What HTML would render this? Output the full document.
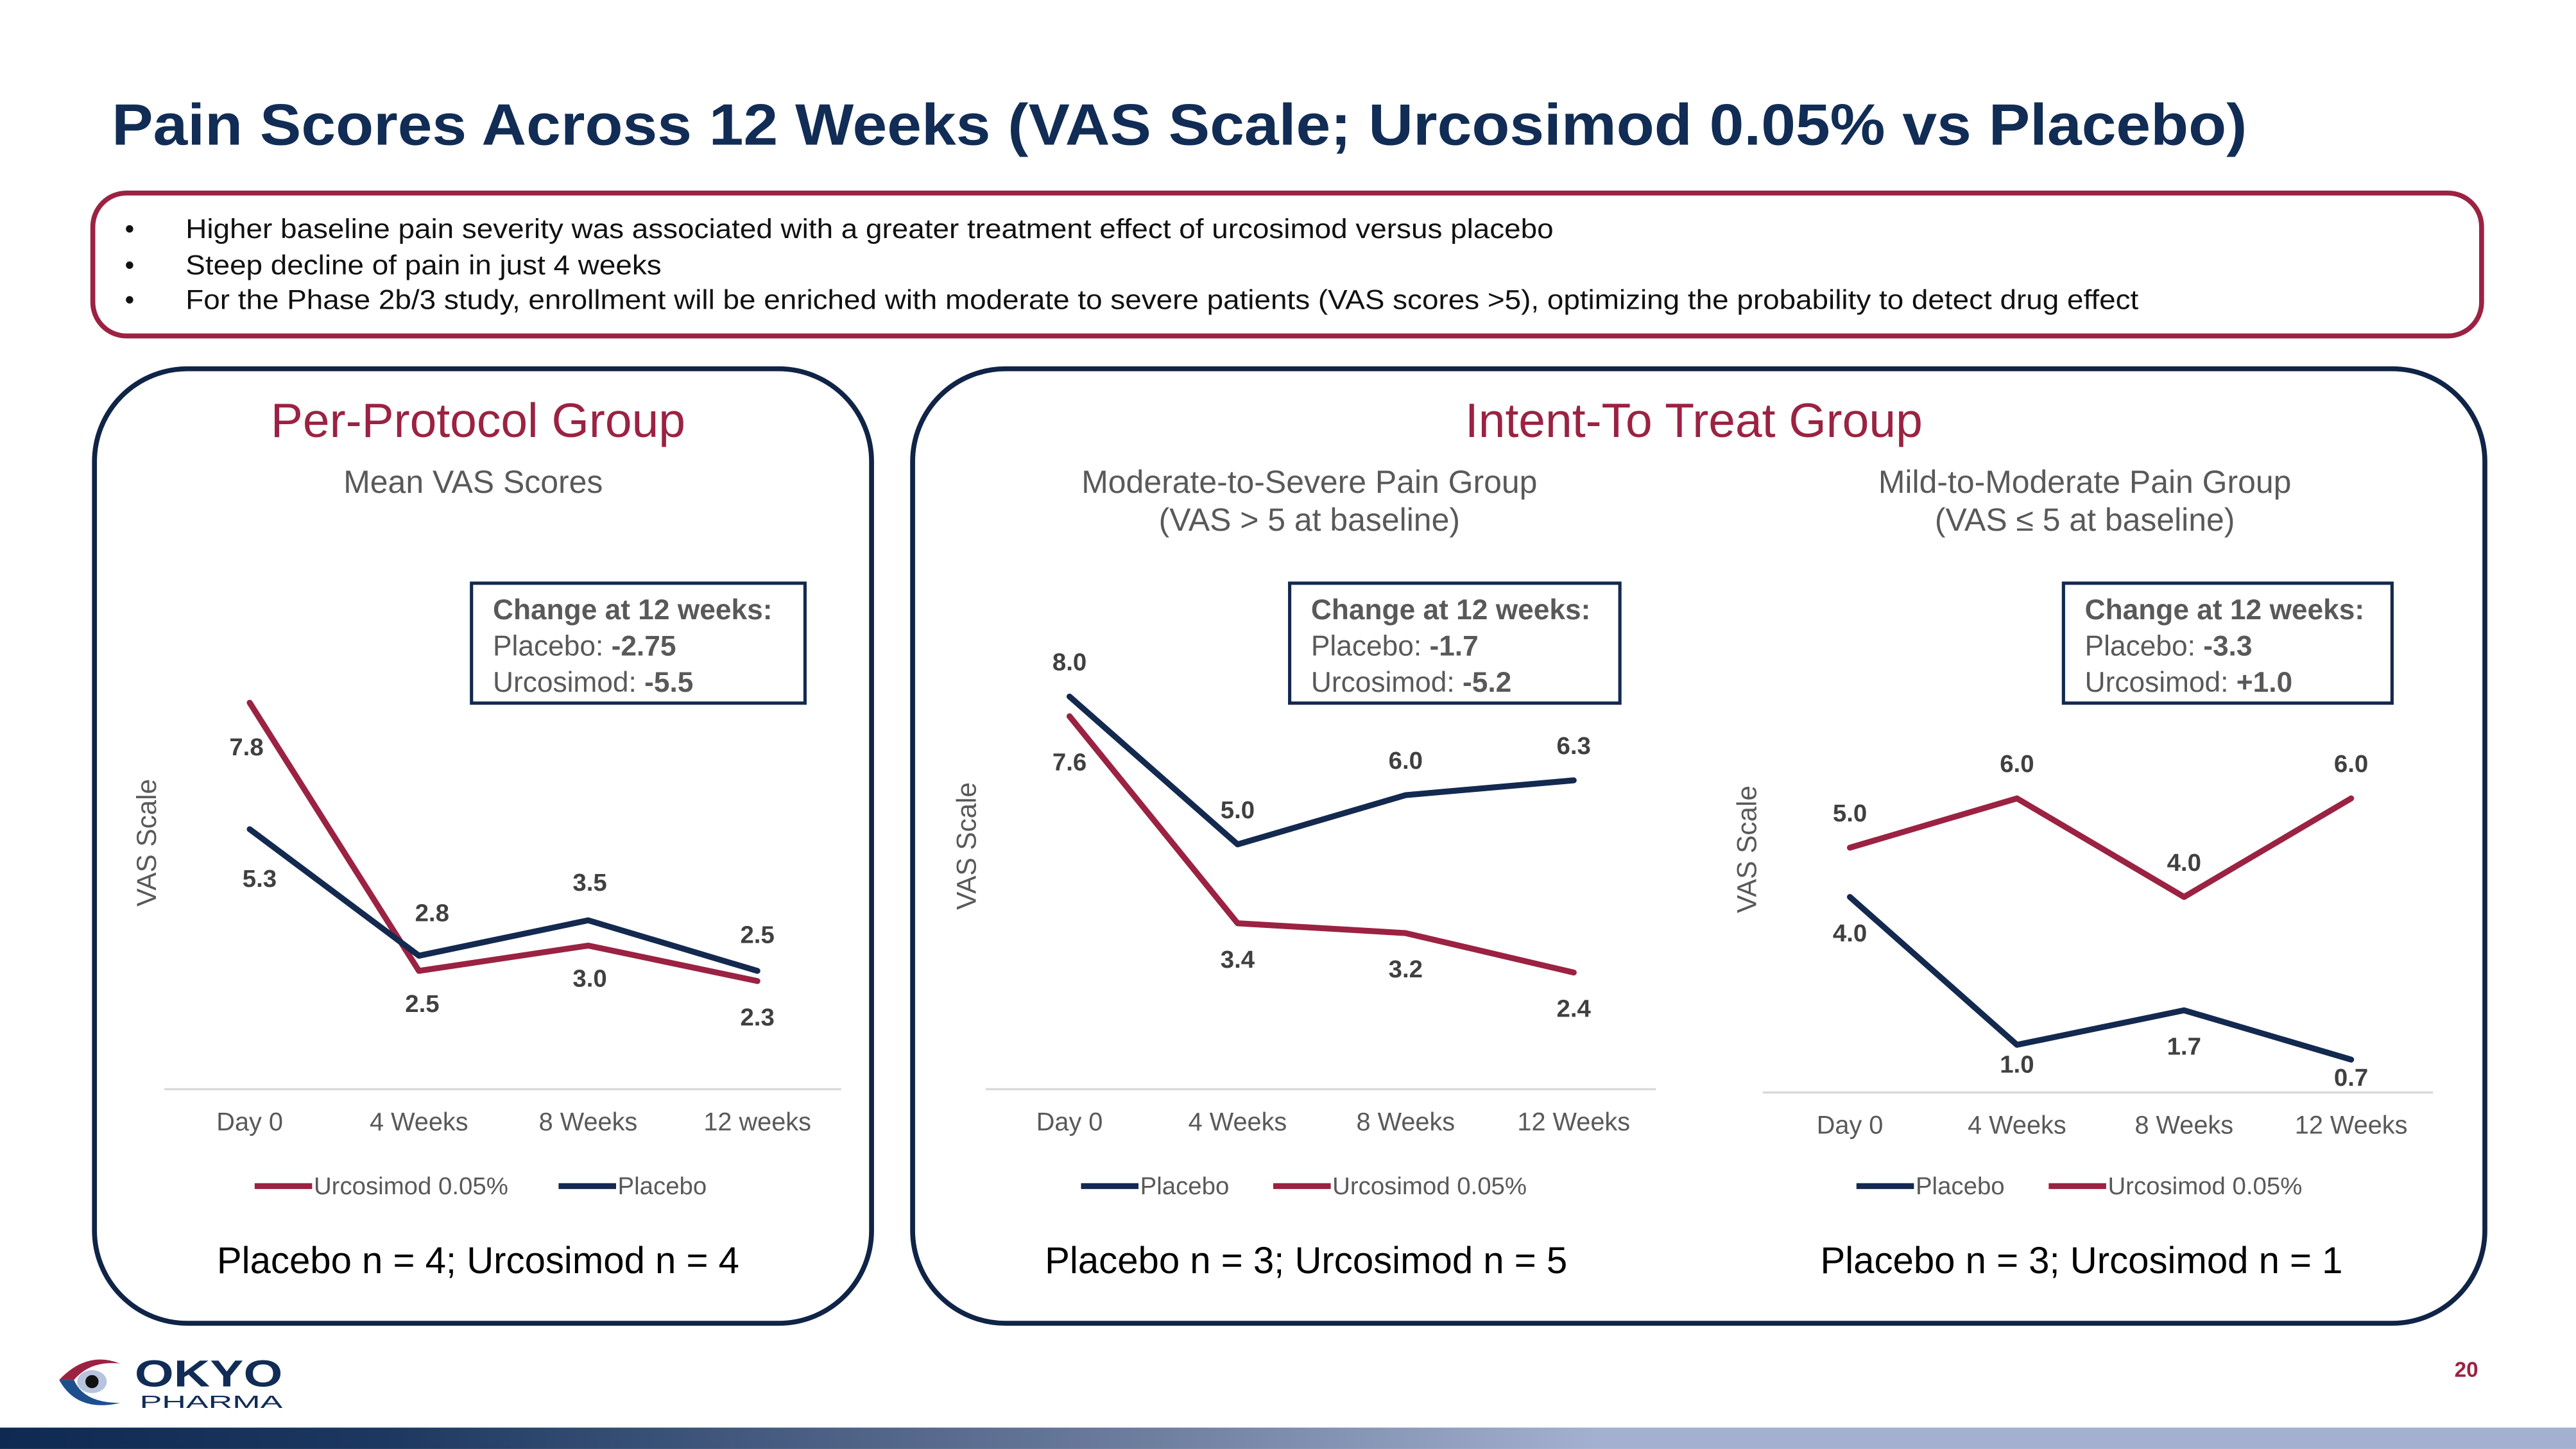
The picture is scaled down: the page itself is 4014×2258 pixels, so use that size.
<!DOCTYPE html>
<html><head><meta charset="utf-8">
<style>
html,body{margin:0;padding:0;background:#fff;}
body{width:4014px;height:2258px;overflow:hidden;font-family:"Liberation Sans",sans-serif;}
#stage{position:absolute;left:0;top:0;width:1568px;height:882px;transform:scale(2.56);transform-origin:0 0;}
.abs{position:absolute;}
.bl{display:inline-block;transform:scaleX(1.085);transform-origin:0 0;}
</style></head>
<body>
<div id="stage">
<div class="abs" style="left:68px;top:56px;font-size:35.5px;font-weight:bold;color:#112c55;white-space:nowrap;transform:scaleX(1.063);transform-origin:0 0;">Pain Scores Across 12 Weeks (VAS Scale; Urcosimod 0.05% vs Placebo)</div>
<div class="abs" style="left:55px;top:116px;width:1451px;height:84px;border:3px solid #9b2242;border-radius:22px;"></div>
<div class="abs" style="left:76px;top:130px;font-size:16.5px;line-height:21.7px;color:#111;white-space:nowrap;">
<div><span style="display:inline-block;width:37px">•</span><span class="bl">Higher baseline pain severity was associated with a greater treatment effect of urcosimod versus placebo</span></div>
<div><span style="display:inline-block;width:37px">•</span><span class="bl">Steep decline of pain in just 4 weeks</span></div>
<div><span style="display:inline-block;width:37px">•</span><span class="bl">For the Phase 2b/3 study, enrollment will be enriched with moderate to severe patients (VAS scores &gt;5), optimizing the probability to detect drug effect</span></div>
</div>
<div class="abs" style="left:56px;top:223px;width:470px;height:578px;border:3px solid #0f2446;border-radius:58px;"></div>
<div class="abs" style="left:554px;top:223px;width:954px;height:578px;border:3px solid #0f2446;border-radius:58px;"></div>
<svg id="charts" class="abs" style="left:0;top:0" width="1568" height="882"></svg>
<div class="abs" style="left:33px;top:824px;width:145px;height:36px;">
<svg width="145" height="36">
<path d="M3 16 Q20 -2 40 6 Q22 4 12 16Z" fill="#9b2242"/>
<path d="M3 16 Q14 36 40 30 Q18 30 12 16Z" fill="#1d4f8f"/>
<ellipse cx="23" cy="17" rx="9" ry="7" fill="#b8c3dd"/>
<circle cx="23" cy="17" r="4" fill="#111"/>
<text x="49" y="20" font-family="Liberation Sans" font-weight="bold" font-size="23" fill="#112c55" textLength="90" lengthAdjust="spacingAndGlyphs">OKYO</text>
<text x="52" y="33" font-family="Liberation Sans" font-size="11" fill="#112c55" textLength="87" lengthAdjust="spacingAndGlyphs">PHARMA</text>
</svg></div>
<div class="abs" style="left:1494px;top:826px;font-size:13px;font-weight:bold;color:#9b2242;">20</div>
<div class="abs" style="left:0;top:869px;width:1568px;height:13px;background:linear-gradient(90deg,#0f2a52 0%,#1d3860 15%,#6f7fa0 45%,#a4b0d0 62%,#a4b0d0 100%);"></div>
</div>
<script>
const cats1 = ["Day 0","4 Weeks","8 Weeks","12 weeks"];
const cats2 = ["Day 0","4 Weeks","8 Weeks","12 Weeks"];
const c1Urco = [7.8,2.5,3.0,2.3];
const c1Plac = [5.3,2.8,3.5,2.5];
const c2Plac = [8.0,5.0,6.0,6.3];
const c2Urco = [7.6,3.4,3.2,2.4];
const c3Urco = [5.0,6.0,4.0,6.0];
const c3Plac = [4.0,1.0,1.7,0.7];
const c1Change = ["-2.75","-5.5"];
const c2Change = ["-1.7","-5.2"];
const c3Change = ["-3.3","+1.0"];

const NAVY="#13294f", RED="#9b2242";
const svg=document.getElementById('charts');
const NS="http://www.w3.org/2000/svg";
function el(tag,attrs,txt){const e=document.createElementNS(NS,tag);for(const k in attrs)e.setAttribute(k,attrs[k]);if(txt!==undefined)e.textContent=txt;svg.appendChild(e);return e;}

function chart(o){
  const xs=i=>o.x0+i*o.dx;
  const ys=v=>o.yz-v*o.k;
  const ax=el('line',{x1:o.ax1,x2:o.ax2,y1:o.axy,y2:o.axy,stroke:"#d9d9d9","stroke-width":1.3});
  
  
  o.cats.forEach((c,i)=>{const t=el('text',{x:xs(i),y:o.axy+25,"text-anchor":"middle","font-size":15.5,fill:"#595959","font-family":"Liberation Sans"},c);
    
    });
  const yt=el('text',{x:0,y:0,transform:`translate(${o.ytx},${o.yty}) rotate(-90)`,"text-anchor":"middle","font-size":16.5,fill:"#595959","font-family":"Liberation Sans"},"VAS Scale");
  
  
  o.series.forEach(s=>{
    const p=el('polyline',{points:s.vals.map((v,i)=>xs(i)+","+ys(v)).join(" "),fill:"none",stroke:s.color,"stroke-width":3.6,"stroke-linejoin":"round","stroke-linecap":"round"});
    
    
    s.vals.forEach((v,i)=>{const t=el('text',{x:xs(i)+(s.ldx?s.ldx[i]:0),y:ys(v)+s.ldy[i]+5,"text-anchor":"middle","font-size":15,"font-weight":"bold",fill:"#404040","font-family":"Liberation Sans"},v.toFixed(1));
      
      });
  });
  o.legend.forEach(l=>{
    const ln=el('line',{x1:l.x,x2:l.x+35,y1:722,y2:722,stroke:l.color,"stroke-width":3.6});
    
    
    const t=el('text',{x:l.x+36,y:727,"font-size":15,fill:"#595959","font-family":"Liberation Sans"},l.label);
    
    
  });
  const b=el('rect',{x:o.bx,y:355,width:o.bw,height:73,fill:"#fff",stroke:"#13294f","stroke-width":2});
  
  
  const t1=el('text',{x:o.bx+13,y:377,"font-size":17.3,"font-weight":"bold",fill:"#595959","font-family":"Liberation Sans"},"Change at 12 weeks:");
  
  
  const t2=el('text',{x:o.bx+13,y:399,"font-size":17.3,fill:"#595959","font-family":"Liberation Sans"});
  t2.innerHTML='Placebo: <tspan font-weight="bold">'+o.change[0]+'</tspan>';
  
  
  const t3=el('text',{x:o.bx+13,y:421,"font-size":17.3,fill:"#595959","font-family":"Liberation Sans"});
  t3.innerHTML='Urcosimod: <tspan font-weight="bold">'+o.change[1]+'</tspan>';
  
  
  o.sub.forEach((s,i)=>{const t=el('text',{x:o.subx,y:300+i*23,"text-anchor":"middle","font-size":19.5,fill:"#595959","font-family":"Liberation Sans"},s);
    
    });
  const n=el('text',{x:o.nx,y:775,"font-size":22.7,fill:"#000","font-family":"Liberation Sans"},o.n);
  
  
}

[["Per-Protocol Group",291],["Intent-To Treat Group",1031]].forEach(h=>{
  const t=el('text',{x:h[1],y:266,"text-anchor":"middle","font-size":29.3,fill:RED,"font-family":"Liberation Sans"},h[0]);
  
  
});

chart({id:"pp-chart",cats:cats1,x0:152,dx:103,yz:668,k:30.8,axy:663,ax1:100,ax2:512,ytx:95,yty:513,
  series:[{name:"urcosimod",vals:c1Urco,color:RED,ldy:[27,20,20,22],ldx:[-2,2,1,0]},
          {name:"placebo",vals:c1Plac,color:NAVY,ldy:[30,-26,-23,-22],ldx:[6,8,1,0]}],
  legend:[{x:155,color:RED,label:"Urcosimod 0.05%"},{x:340,color:NAVY,label:"Placebo"}],
  bx:287,bw:203,change:c1Change,sub:["Mean VAS Scores"],subx:288,n:"Placebo n = 4; Urcosimod n = 4",nx:132});

chart({id:"itt-severe-chart",cats:cats2,x0:651,dx:102.3,yz:664,k:30,axy:663,ax1:600,ax2:1008,ytx:594,yty:515,
  series:[{name:"placebo",vals:c2Plac,color:NAVY,ldy:[-21,-21,-21,-21]},
          {name:"urcosimod",vals:c2Urco,color:RED,ldy:[28,22,22,22]}],
  legend:[{x:658,color:NAVY,label:"Placebo"},{x:775,color:RED,label:"Urcosimod 0.05%"}],
  bx:785,bw:201,change:c2Change,sub:["Moderate-to-Severe Pain Group","(VAS > 5 at baseline)"],subx:797,n:"Placebo n = 3; Urcosimod n = 5",nx:636});

chart({id:"itt-mild-chart",cats:cats2,x0:1126,dx:101.7,yz:666,k:30,axy:665,ax1:1073,ax2:1481,ytx:1069,yty:517,
  series:[{name:"urcosimod",vals:c3Urco,color:RED,ldy:[-21,-21,-21,-21]},
          {name:"placebo",vals:c3Plac,color:NAVY,ldy:[22,12,22,11]}],
  legend:[{x:1130,color:NAVY,label:"Placebo"},{x:1247,color:RED,label:"Urcosimod 0.05%"}],
  bx:1256,bw:200,change:c3Change,sub:["Mild-to-Moderate Pain Group","(VAS ≤ 5 at baseline)"],subx:1269,n:"Placebo n = 3; Urcosimod n = 1",nx:1108});
</script>
</body></html>
